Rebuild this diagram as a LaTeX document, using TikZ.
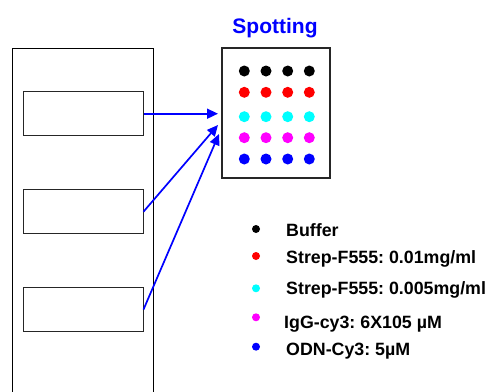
\documentclass[tikz,border=0pt]{standalone}
\usepackage{fontspec}
\setmainfont{Liberation Sans}
\usepackage{xcolor}
\usepackage{tikz}
\usetikzlibrary{arrows.meta,positioning}
\frenchspacing
\colorlet{colorSpot}{blue}
\colorlet{colorFrame}{black!85}
\definecolor{colorCyan}{RGB}{0,255,255}
\definecolor{colorMagenta}{RGB}{255,0,255}
\definecolor{colorRed}{RGB}{255,0,0}
\definecolor{colorBlue}{RGB}{0,0,255}
\tikzset{
   spotarrow/.style={-{Triangle[length=11pt,width=10pt]},draw=colorSpot,line width=1.7pt},
}

\begin{document}
\begin{tikzpicture}[x=1pt,y=-1pt,
    slide/.style={draw=black, line width=0.8pt, inner sep=0pt},
    well/.style={draw=colorFrame, line width=1pt, minimum width=120pt, minimum height=43.5pt, inner sep=0pt},
    spotbox/.style={draw=colorFrame, line width=1.8pt, minimum width=108pt, minimum height=130pt, inner sep=0pt},
    spotdot/.style={circle, fill=#1, minimum size=11pt, inner sep=0pt},
    legdot/.style={circle, fill=#1, minimum size=8pt, inner sep=0pt},
    legtext/.style={anchor=base west, inner sep=0pt, font=\fontsize{17.8}{20}\selectfont\bfseries},
    spottitle/.style={anchor=base, inner sep=0pt, text=colorSpot, font=\fontsize{21}{24}\selectfont\bfseries}
]
\clip (0,0) rectangle (489,391);

% ------------------------------------------------------------
% Slide with three wells
% ------------------------------------------------------------
\node[slide, minimum width=141pt, minimum height=360pt, anchor=north west] (slide) at (12,48) {};

\node[well] (w1) at (83,113.7) {};
\node[well] (w2) at (83,211.7) {};
\node[well] (w3) at (83,309.5) {};

% ------------------------------------------------------------
% Spotting array
% ------------------------------------------------------------
\node[spottitle] (title) at (275,33) {Spotting};
\node[spotbox] (array) at (276,113.3) {};

\foreach \c/\y [count=\i] in {black/71,colorRed/92.3,colorCyan/116.7,colorMagenta/137.7,colorBlue/159}
  \foreach \x [count=\j] in {244.3,266,287.7,309.3}
    \node[spotdot=\c] (d\i\j) at (\x,\y) {};

% arrows from the wells
\coordinate (tip1) at (218,113.7);
\coordinate (tip2) at (218,125);
\coordinate (tip3) at (219,134);

\draw[spotarrow] (w1.east) -- (tip1);
\draw[spotarrow] (w2.east) -- (tip2);
\draw[spotarrow] (w3.east) -- (tip3);

% ------------------------------------------------------------
% Legend
% ------------------------------------------------------------
\node[legdot=black]        (k1) at (256,229) {};
\node[legdot=colorRed]     (k2) at (256,256) {};
\node[legdot=colorCyan]    (k3) at (256,288.3) {};
\node[legdot=colorMagenta] (k4) at (256,317.3) {};
\node[legdot=colorBlue]    (k5) at (256,346.7) {};

\node[legtext] (l1) at (286,236) {Buffer};
\node[legtext] (l2) at (286,263.3) {Strep-F555: 0.01mg/ml};
\node[legtext] (l3) at (286,294) {Strep-F555: 0.005mg/ml};
\node[legtext] (l4) at (284,328.3) {IgG-cy3: 6X105 µM};
\node[legtext] (l5) at (286,355.7) {ODN-Cy3: 5µM};
\end{tikzpicture}
\end{document}
